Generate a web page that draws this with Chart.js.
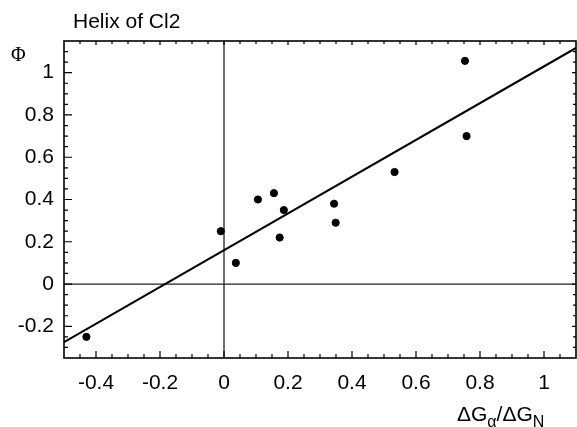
<!DOCTYPE html>
<html>
<head>
<meta charset="utf-8">
<script src="https://cdn.jsdelivr.net/npm/chart.js@4/dist/chart.umd.min.js"></script>
<style>
  body { margin: 0; background: #fff; }
  #wrap { width: 577px; height: 427px; }
</style>
</head>
<body>
<div id="wrap"><canvas id="myChart" width="577" height="427"></canvas></div>
<script>
// data
const pointX = [-0.43, -0.01, 0.037, 0.106, 0.156, 0.187, 0.174, 0.344, 0.349, 0.533, 0.753, 0.758];
const pointY = [-0.25, 0.25, 0.10, 0.40, 0.43, 0.35, 0.22, 0.38, 0.29, 0.53, 1.056, 0.70];
const fitX = [-0.5, 1.1];
const fitY = [-0.275, 1.117];
const xTicks = [-0.4, -0.2, 0, 0.2, 0.4, 0.6, 0.8, 1];
const yTicks = [-0.2, 0, 0.2, 0.4, 0.6, 0.8, 1];

const FONT = '"Liberation Sans", Arial, Helvetica, sans-serif';

// frame, zero lines, inward ticks and the texts
const frame = {
  id: 'frame',
  beforeDatasetsDraw(chart) {
    const {ctx, chartArea: a, scales: {x, y}} = chart;
    ctx.save();
    ctx.strokeStyle = '#222';
    ctx.lineWidth = 1.3;
    let x0 = x.getPixelForValue(0), y0 = y.getPixelForValue(0);
    ctx.beginPath();
    ctx.moveTo(x0, a.top); ctx.lineTo(x0, a.bottom);
    ctx.moveTo(a.left, y0); ctx.lineTo(a.right, y0);
    ctx.stroke();
    ctx.restore();
  },
  afterDraw(chart) {
    const {ctx, chartArea: a, scales: {x, y}} = chart;
    ctx.save();
    ctx.strokeStyle = '#000';
    ctx.lineWidth = 1.6;
    ctx.strokeRect(a.left, a.top, a.right - a.left, a.bottom - a.top);

    ctx.lineWidth = 1.2;
    ctx.beginPath();
    for (let i = -10; i <= 22; i++) {
      let v = i * 0.05;
      let major = i % 4 == 0;
      let px = x.getPixelForValue(v);
      if (px > a.left + 1 && px < a.right - 1) {
        let len = major ? 7 : 4;
        ctx.moveTo(px, a.bottom); ctx.lineTo(px, a.bottom - len);
        ctx.moveTo(px, a.top); ctx.lineTo(px, a.top + (major ? 4 : 3));
      }
    }
    for (let i = -7; i <= 23; i++) {
      let v = i * 0.05;
      let major = i % 4 == 0;
      let py = y.getPixelForValue(v);
      if (py > a.top + 1 && py < a.bottom - 1) {
        let len = major ? 8 : 4;
        ctx.moveTo(a.left, py); ctx.lineTo(a.left + len, py);
        ctx.moveTo(a.right, py); ctx.lineTo(a.right - (major ? 4 : 3), py);
      }
    }
    ctx.stroke();

    ctx.fillStyle = '#000';
    ctx.textBaseline = 'alphabetic';
    // title
    ctx.font = '21px ' + FONT;
    ctx.textAlign = 'left';
    ctx.fillText('Helix of Cl2', 73, 28);
    // y axis label
    ctx.font = '20px "Liberation Serif", "DejaVu Serif", serif';
    ctx.fillText('Φ', 11, 61);
    // x axis label with subscripts
    let main = '21px ' + FONT, sub = '16px ' + FONT;
    let cx = 457, base = 421;
    const part = (t, f, dy) => { ctx.font = f; ctx.fillText(t, cx, base + dy); cx += ctx.measureText(t).width; };
    part('ΔG', main, 0);
    part('α', sub, 6);
    part('/ΔG', main, 0);
    part('N', sub, 6);
    ctx.restore();
  }
};

new Chart('myChart', {
  type: 'scatter',
  data: {
    datasets: [{
      data: pointX.map((v, i) => ({x: v, y: pointY[i]})),
      backgroundColor: '#000',
      borderColor: '#000',
      pointRadius: 3.6,
      pointHoverRadius: 3.6
    }, {
      type: 'line',
      data: fitX.map((v, i) => ({x: v, y: fitY[i]})),
      borderColor: '#000',
      borderWidth: 2,
      pointRadius: 0,
      fill: false
    }]
  },
  options: {
    responsive: false,
    animation: false,
    events: [],
    layout: {autoPadding: false, padding: {top: 41, right: 1, left: 0, bottom: 0}},
    plugins: {legend: {display: false}, tooltip: {enabled: false}},
    scales: {
      x: {
        type: 'linear', min: -0.5, max: 1.1,
        grid: {display: false, drawTicks: false},
        border: {display: false},
        afterBuildTicks: s => { s.ticks = xTicks.map(v => ({value: v})); },
        afterFit: s => { s.height = 69; s.paddingLeft = 0; s.paddingRight = 0; },
        ticks: {
          color: '#000', padding: 13,
          font: {family: FONT, size: 21},
          maxRotation: 0,
          callback: v => String(Math.round(v * 10) / 10)
        }
      },
      y: {
        type: 'linear', min: -0.35, max: 1.15,
        grid: {display: false, drawTicks: false},
        border: {display: false},
        afterBuildTicks: s => { s.ticks = yTicks.map(v => ({value: v})); },
        afterFit: s => { s.width = 64; s.paddingTop = 0; s.paddingBottom = 0; },
        ticks: {
          color: '#000', padding: 10,
          font: {family: FONT, size: 21},
          callback: v => String(Math.round(v * 10) / 10)
        }
      }
    }
  },
  plugins: [frame]
});
</script>
</body>
</html>
